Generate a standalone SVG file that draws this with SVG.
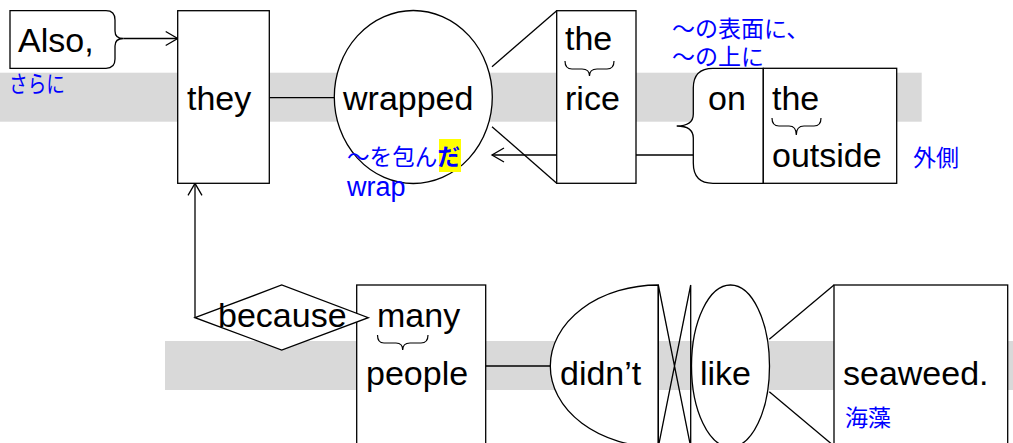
<svg xmlns="http://www.w3.org/2000/svg" width="1013" height="443" viewBox="0 0 1013 443">
<defs>
<style>
.band{fill:#d9d9d9}
.node{fill:#fff;stroke:#000;stroke-width:1.3}
.ln{fill:none;stroke:#000;stroke-width:1.3}
.br{fill:none;stroke:#000;stroke-width:1.2}
.w{font-family:"Liberation Sans",Arial,sans-serif;font-size:34px;fill:#000}
.j{font-family:"Liberation Sans","Noto Sans CJK JP",sans-serif;font-size:23px;fill:#0000ff}
.e{font-family:"Liberation Sans","Noto Sans CJK JP",sans-serif;font-size:27px;fill:#0000ff}
</style>
<marker id="arr" markerUnits="userSpaceOnUse" markerWidth="20" markerHeight="20" refX="0" refY="0" viewBox="-14 -10 16 20" orient="auto" overflow="visible">
<path d="M-12,-7 L0,0 L-12,7" fill="none" stroke="#000" stroke-width="1.3"/>
</marker>
</defs>
<rect class="band" x="0" y="72.7" width="921.7" height="49"/>
<rect class="band" x="165" y="341" width="848" height="49"/>

<g id="connectors">
<line class="ln" x1="123.3" y1="38.5" x2="177.7" y2="38.5" marker-end="url(#arr)"/>
<line class="ln" x1="269.3" y1="97.7" x2="334.3" y2="97.7"/>
<line class="ln" x1="492" y1="66.7" x2="556.7" y2="10.7"/>
<line class="ln" x1="492" y1="126.7" x2="556.7" y2="183.3"/>
<line class="ln" x1="693.3" y1="155" x2="492" y2="155" marker-end="url(#arr)"/>
<line class="ln" x1="195" y1="317.7" x2="195" y2="183.3" marker-end="url(#arr)"/>
<line class="ln" x1="485.7" y1="366" x2="550.5" y2="366"/>
<line class="ln" x1="769.3" y1="339.3" x2="834" y2="285"/>
<line class="ln" x1="769.3" y1="391.7" x2="834" y2="446"/>
</g>

<g id="also">
<path class="node" d="M10,10.7 H106 Q115,10.7 115,20 V31 Q115,38.5 123.3,38.5 Q115,38.5 115,46 V59 Q115,68.3 106,68.3 H10 Z"/>
<text class="w" x="18" y="52">Also,</text>
<text class="j" x="9" y="92" textLength="56" lengthAdjust="spacingAndGlyphs">さらに</text>
</g>

<g id="they">
<rect class="node" x="177.7" y="10.7" width="91.6" height="172.6"/>
<text class="w" x="187" y="110">they</text>
</g>

<g id="wrapped">
<ellipse class="node" cx="413.3" cy="97" rx="79" ry="86.5"/>
<text class="w" x="343" y="110">wrapped</text>
<rect x="439" y="139" width="22" height="33" fill="#ffff00"/>
<text class="j" x="347" y="165" textLength="113" lengthAdjust="spacingAndGlyphs">～を包ん<tspan font-weight="bold">だ</tspan></text>
<text class="e" x="347" y="196">wrap</text>
</g>

<g id="rice">
<rect class="node" x="556.7" y="10.7" width="79.3" height="172.6"/>
<text class="w" x="565" y="50">the</text>
<path class="br" d="M565,61 Q565,69 572,69 H582 Q589.5,69 589.5,76 Q589.5,69 597,69 H607 Q614,69 614,61"/>
<text class="w" x="565" y="110">rice</text>
</g>

<g id="on">
<path class="node" d="M763.3,68.3 H713 Q693.3,68.3 693.3,88 V114 Q693.3,126 676.7,126 Q693.3,126 693.3,138 V163 Q693.3,183.3 713,183.3 H763.3 Z"/>
<text class="w" x="708" y="110">on</text>
<text class="j" x="672" y="37">～の表面に、</text>
<text class="j" x="672" y="65">～の上に</text>
</g>

<g id="outside">
<rect class="node" x="763.3" y="68.3" width="133.4" height="115"/>
<text class="w" x="772" y="110">the</text>
<path class="br" d="M772,118 Q772,126 779,126 H789 Q796.3,126 796.3,135 Q796.3,126 804,126 H814 Q821,126 821,118"/>
<text class="w" x="772" y="167">outside</text>
<text class="j" x="913" y="166">外側</text>
</g>

<g id="people">
<rect class="node" x="356.7" y="285" width="129" height="200"/>
<text class="w" x="377" y="327">many</text>
<path class="br" d="M377.5,335 Q377.5,343 384,343 H396 Q402.7,343 402.7,350 Q402.7,343 410,343 H421 Q428,343 428,335"/>
<text class="w" x="366" y="385">people</text>
</g>

<g id="because">
<polygon class="node" points="195,317.7 281.7,285 368.3,317.7 281.7,350"/>
<text class="w" x="218" y="327">because</text>
</g>

<g id="didnt">
<path class="node" d="M658.3,285 A108,81 0 0 0 658.3,447 Z"/>
<text class="w" x="560" y="385">didn’t</text>
</g>

<g id="not">
<path class="ln" d="M658.3,285 V447 M690.7,285 V447 M658.3,285 L690.7,447 M690.7,285 L658.3,447"/>
</g>

<g id="like">
<ellipse class="node" cx="730.5" cy="366" rx="39" ry="81"/>
<text class="w" x="700" y="385">like</text>
</g>

<g id="seaweed">
<rect class="node" x="834" y="285" width="173.7" height="200"/>
<text class="w" x="843" y="385">seaweed.</text>
<text class="j" x="845" y="426">海藻</text>
</g>
</svg>
